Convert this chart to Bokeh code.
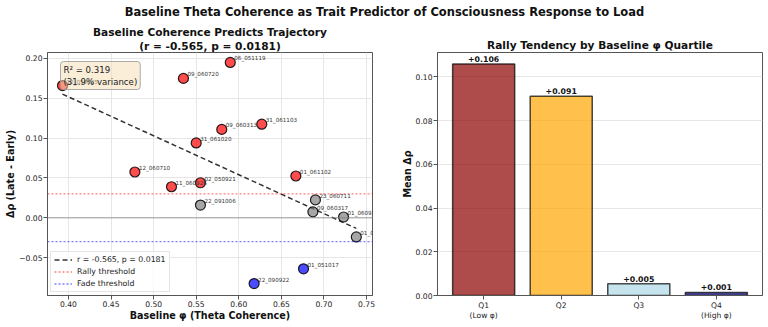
import numpy as np
from bokeh.plotting import figure
from bokeh.models import (ColumnDataSource, Label, LabelSet, Span, Legend, LegendItem,
                          FixedTicker, CustomJSTickFormatter, Range1d, Title)
from bokeh.layouts import column, row
from bokeh.embed import file_html
from bokeh.resources import INLINE
from bokeh.core.properties import value

FONT = "DejaVu Sans"

# ---------------- data ----------------
SUPTITLE = "Baseline Theta Coherence as Trait Predictor of Consciousness Response to Load"
LEFT_TITLE_1 = "Baseline Coherence Predicts Trajectory"
LEFT_TITLE_2 = "(r = -0.565, p = 0.0181)"
RIGHT_TITLE = "Rally Tendency by Baseline φ Quartile"

subjects = ["12_050825", "09_060720", "06_051119", "09_060313", "31_061103",
            "31_061020", "12_060710", "11_060926", "02_050921", "01_061102",
            "22_091006", "23_060711", "09_060317", "01_060926", "01_060626",
            "01_051017", "22_090922"]
baseline_phi = [0.393, 0.535, 0.590, 0.580, 0.627,
                0.550, 0.478, 0.521, 0.555, 0.667,
                0.555, 0.690, 0.687, 0.723, 0.738,
                0.676, 0.618]
delta_rho = [0.166, 0.175, 0.195, 0.111, 0.1175,
             0.094, 0.0575, 0.039, 0.044, 0.0525,
             0.016, 0.0225, 0.0075, 0.001, -0.024,
             -0.064, -0.0825]

RALLY_THRESHOLD = 0.03
FADE_THRESHOLD = -0.03
R_TEXT = "r = -0.565, p = 0.0181"
R2_TEXT = "R² = 0.319\n(31.9% variance)"

left_x_ticks = [0.40, 0.45, 0.50, 0.55, 0.60, 0.65, 0.70, 0.75]
left_y_ticks = [-0.05, 0.00, 0.05, 0.10, 0.15, 0.20]

quartiles = ["Q1", "Q2", "Q3", "Q4"]
quartile_tick_labels = ["Q1\n(Low φ)", "Q2", "Q3", "Q4\n(High φ)"]
quartile_mean_drho = [0.1059, 0.0912, 0.0054, 0.0014]
quartile_colors = ["darkred", "orange", "lightblue", "navy"]
right_y_ticks = [0.00, 0.02, 0.04, 0.06, 0.08, 0.10]

# ---------------- helpers ----------------
SPINE = "#555555"
GRID = "#e6e6e6"
fmt2 = CustomJSTickFormatter(code="return tick.toFixed(2).replace('-', '\u2212');")


def style_axes(p):
    for ax in (p.xaxis[0], p.yaxis[0]):
        ax.axis_line_color = SPINE
        ax.major_tick_line_color = SPINE
        ax.minor_tick_line_color = None
        ax.major_tick_out = 4
        ax.major_tick_in = 0
        ax.major_label_standoff = 1
        ax.major_label_text_font = FONT
        ax.major_label_text_font_size = "7.6px"
        ax.major_label_text_color = "#222222"
        ax.axis_label_text_font = FONT
        ax.axis_label_text_font_style = "bold"
        ax.axis_label_text_font_size = "9.6px"
        ax.axis_label_text_color = "#111111"
        ax.axis_label_standoff = 0
    p.outline_line_color = SPINE
    p.outline_line_width = 1


def add_title(p, text, standoff=0):
    p.add_layout(Title(text=text, align="center", text_font=FONT, text_font_style="bold",
                       text_font_size="10.6px", text_color="#111111",
                       standoff=standoff, offset=0), "above")


# ---------------- header ----------------
header = figure(width=768, height=20, x_range=(0, 1), y_range=(0, 1),
                toolbar_location=None, output_backend="svg", title=None,
                x_axis_location=None, y_axis_location=None, min_border=0)
header.grid.visible = False
header.outline_line_color = None
header.add_layout(Label(x=0.5, y=0.45, text=SUPTITLE, text_align="center",
                        text_baseline="middle", text_font=FONT,
                        text_font_style="bold", text_font_size="11.5px",
                        text_color="#111111"))

# ---------------- left scatter ----------------
p1 = figure(width=392, height=307, title=None,
            x_range=Range1d(0.3754, 0.757), y_range=Range1d(-0.0975, 0.2075),
            toolbar_location=None, output_backend="svg",
            min_border_left=47, min_border_right=20,
            min_border_top=32, min_border_bottom=32)
style_axes(p1)
p1.xaxis.ticker = FixedTicker(ticks=left_x_ticks)
p1.yaxis.ticker = FixedTicker(ticks=left_y_ticks)
p1.xaxis.formatter = fmt2
p1.yaxis.formatter = fmt2
p1.xaxis.axis_label = "Baseline φ (Theta Coherence)"
p1.yaxis.axis_label = "Δρ (Late - Early)"
p1.xgrid.grid_line_color = GRID
p1.ygrid.grid_line_color = GRID
add_title(p1, LEFT_TITLE_2, standoff=1)
add_title(p1, LEFT_TITLE_1)

p1.add_layout(Span(location=0, dimension="width", line_color="gray",
                   line_alpha=0.5, line_width=1.5))
p1.add_layout(Span(location=RALLY_THRESHOLD, dimension="width", line_color="red",
                   line_alpha=0.5, line_width=1.3, line_dash="2 2"))
p1.add_layout(Span(location=FADE_THRESHOLD, dimension="width", line_color="blue",
                   line_alpha=0.5, line_width=1.3, line_dash="2 2"))

phi = np.array(baseline_phi)
drho = np.array(delta_rho)
slope, intercept = np.polyfit(phi, drho, 1)
fit_x = np.array([phi.min(), phi.max()])
fit_y = slope * fit_x + intercept
reg = p1.line(fit_x, fit_y, line_color="black", line_alpha=0.8, line_width=1.5,
              line_dash="5 3")
rally_dummy = p1.line([np.nan], [np.nan], line_color="red", line_alpha=0.5,
                      line_width=1.3, line_dash="2 2")
fade_dummy = p1.line([np.nan], [np.nan], line_color="blue", line_alpha=0.5,
                     line_width=1.3, line_dash="2 2")

point_colors = ["red" if d > RALLY_THRESHOLD else ("blue" if d < FADE_THRESHOLD else "gray")
                for d in delta_rho]
src = ColumnDataSource(dict(x=baseline_phi, y=delta_rho, name=subjects, c=point_colors))
p1.scatter("x", "y", source=src, size=10, fill_color="c", fill_alpha=0.7,
           line_color="black", line_alpha=0.85, line_width=1.2)
p1.add_layout(LabelSet(x="x", y="y", text="name", source=src, x_offset=4, y_offset=2,
                       text_font=value(FONT), text_font_size="5.6px",
                       text_color="#333333", text_baseline="alphabetic"))

p1.add_layout(Label(x=13, y=234, x_units="screen", y_units="screen", text=R2_TEXT,
                    text_align="left", text_baseline="top", text_font=FONT,
                    text_font_size="8.6px", text_color="#222222",
                    background_fill_color="wheat", background_fill_alpha=0.5,
                    border_line_color="#999999", border_line_alpha=0.8,
                    padding=3, border_radius=3))

legend = Legend(items=[LegendItem(label=R_TEXT, renderers=[reg]),
                       LegendItem(label="Rally threshold", renderers=[rally_dummy]),
                       LegendItem(label="Fade threshold", renderers=[fade_dummy])],
                location="bottom_left", label_text_font=FONT,
                label_text_font_size="7.8px", label_text_color="#222222",
                glyph_width=18, glyph_height=9, label_height=9, label_standoff=5,
                spacing=3, padding=3, margin=3, border_line_color="#cccccc",
                background_fill_alpha=0.8)
p1.add_layout(legend, "center")

# ---------------- right bars ----------------
p2 = figure(width=376, height=307, title=None,
            x_range=Range1d(-0.595, 3.595), y_range=Range1d(0, 0.1112),
            toolbar_location=None, output_backend="svg",
            min_border_left=45, min_border_right=6,
            min_border_top=32, min_border_bottom=32)
style_axes(p2)
xpos = list(range(len(quartiles)))
p2.xaxis.ticker = FixedTicker(ticks=xpos)
p2.xaxis.major_label_overrides = {i: lab for i, lab in zip(xpos, quartile_tick_labels)}
p2.yaxis.ticker = FixedTicker(ticks=right_y_ticks)
p2.yaxis.formatter = fmt2
p2.yaxis.axis_label = "Mean Δρ"
p2.xgrid.visible = False
p2.ygrid.grid_line_color = GRID
add_title(p2, RIGHT_TITLE, standoff=3)

bsrc = ColumnDataSource(dict(x=xpos, top=quartile_mean_drho, color=quartile_colors,
                             lab=["+%.3f" % v for v in quartile_mean_drho]))
p2.vbar(x="x", top="top", width=0.8, source=bsrc, fill_color="color", fill_alpha=0.7,
        line_color="black", line_alpha=0.7, line_width=1.5)
p2.add_layout(LabelSet(x="x", y="top", text="lab", source=bsrc, text_align="center",
                       text_baseline="alphabetic", text_font=value(FONT),
                       text_font_style="bold", text_font_size="7.8px",
                       text_color="#111111", y_offset=2))

layout = column(header, row(p1, p2))
open("out.html", "w").write(file_html(layout, INLINE))
